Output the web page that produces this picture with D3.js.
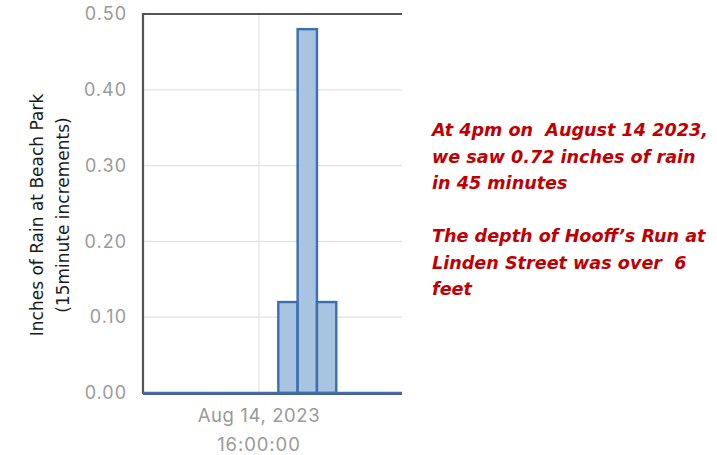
<!DOCTYPE html>
<html>
<head>
<meta charset="utf-8">
<script src="https://cdn.jsdelivr.net/npm/d3@7"></script>
<style>
body { margin: 0; background: #fff; }
svg { display: block; }
</style>
</head>
<body>
<script>
// 15 minute rain totals (bin start time, inches)
var times = ["14:30", "14:45", "15:00", "15:15", "15:30", "15:45", "16:00", "16:15", "16:30", "16:45", "17:00", "17:15", "17:30", "17:45"]
var rain = [0, 0, 0, 0, 0, 0, 0, 0.12, 0.48, 0.12, 0, 0, 0, 0]
var yTicks = [0, 0.1, 0.2, 0.3, 0.4, 0.5]
var xTicks = ["16:00"]
var note1 = ["At 4pm on  August 14 2023,", "we saw 0.72 inches of rain", "in 45 minutes"]
var note2 = ["The depth of Hooff\u2019s Run at", "Linden Street was over  6", "feet"]

var W = 717, H = 455
var m = { left: 143, top: 14, right: 402, bottom: 393 }

var parse = function (t) { return d3.timeParse("%Y-%m-%d %H:%M")("2023-08-14 " + t) }
var data = times.map(function (t, i) { return { t: parse(t), v: rain[i] } })

var svg = d3.select("body").append("svg")
    .attr("width", W)
    .attr("height", H)

var x = d3.scaleTime()
    .domain([parse("14:30"), d3.timeMinute.offset(parse("17:45"), 6)])
    .range([m.left, m.right])
var y = d3.scaleLinear().domain([0, 0.5]).range([m.bottom, m.top])

// grid
svg.append("g").selectAll("line").data(yTicks).enter().append("line")
    .attr("x1", m.left).attr("x2", m.right)
    .attr("y1", function (d) { return y(d) }).attr("y2", function (d) { return y(d) })
    .attr("stroke", "#e2e2e2").attr("stroke-width", 1.2)
svg.append("g").selectAll("line").data(xTicks).enter().append("line")
    .attr("x1", function (d) { return x(parse(d)) }).attr("x2", function (d) { return x(parse(d)) })
    .attr("y1", m.top).attr("y2", m.bottom)
    .attr("stroke", "#e2e2e2").attr("stroke-width", 1.2)

// frame
svg.append("line").attr("x1", m.left).attr("x2", m.right).attr("y1", m.top).attr("y2", m.top)
    .attr("stroke", "#555").attr("stroke-width", 2.2)
svg.append("line").attr("x1", m.left).attr("x2", m.left).attr("y1", m.top - 1).attr("y2", m.bottom + 1)
    .attr("stroke", "#555").attr("stroke-width", 2.2)
svg.append("line").attr("x1", m.left).attr("x2", m.right).attr("y1", m.bottom + 1).attr("y2", m.bottom + 1)
    .attr("stroke", "#555").attr("stroke-width", 2)

// bars
var bars = data.filter(function (d) { return d.v > 0 })
svg.append("g").selectAll("rect").data(bars).enter().append("rect")
    .attr("x", function (d) { return x(d.t) })
    .attr("width", function (d) { return x(d3.timeMinute.offset(d.t, 15)) - x(d.t) })
    .attr("y", function (d) { return y(d.v) })
    .attr("height", function (d) { return y(0) - y(d.v) })
    .attr("fill", "#a9c4e0")
    .attr("stroke", "#3b6fb0")
    .attr("stroke-width", 2.4)

// zero line across the whole range
svg.append("line")
    .attr("x1", m.left).attr("x2", m.right)
    .attr("y1", y(0)).attr("y2", y(0))
    .attr("stroke", "#3b6fb0").attr("stroke-width", 2.6)

// y axis labels
var yAxis = d3.axisLeft(y).tickValues(yTicks).tickFormat(d3.format(".2f")).tickSize(0).tickPadding(16)
var ga = svg.append("g").attr("transform", "translate(" + m.left + ",0)").call(yAxis)
ga.select(".domain").remove()
ga.selectAll("text").attr("font-family", "Inter, 'Open Sans', sans-serif").attr("font-size", 18)
    .attr("letter-spacing", 1).attr("fill", "#9a9a9a")

// x axis labels
xTicks.forEach(function (t) {
    var xx = x(parse(t))
    svg.append("text").attr("x", xx).attr("y", 422).attr("text-anchor", "middle")
        .attr("font-family", "Inter, 'Open Sans', sans-serif").attr("font-size", 18.5)
        .attr("letter-spacing", 0.6).attr("fill", "#9a9a9a")
        .text(d3.timeFormat("%b %d, %Y")(parse(t)))
    svg.append("text").attr("x", xx).attr("y", 451).attr("text-anchor", "middle")
        .attr("font-family", "Inter, 'Open Sans', sans-serif").attr("font-size", 18.5)
        .attr("letter-spacing", 0.9).attr("fill", "#9a9a9a")
        .text(d3.timeFormat("%H:%M:%S")(parse(t)))
})

// y title
var yt = svg.append("text")
    .attr("transform", "translate(0,215) rotate(-90)")
    .attr("text-anchor", "middle")
    .attr("font-family", "'DejaVu Sans', sans-serif")
    .attr("font-size", 17)
    .attr("fill", "#1a1a1a")
yt.append("tspan").attr("x", 0).attr("y", 43).text("Inches of Rain at Beach Park")
yt.append("tspan").attr("x", 0).attr("y", 69).text("(15minute increments)")

// annotation
var note = note1.concat([""], note2)
var tx = svg.append("text")
    .attr("font-family", "'DejaVu Sans', sans-serif")
    .attr("font-size", 17.6)
    .attr("font-weight", "bold")
    .attr("font-style", "italic")
    .attr("fill", "#c00000")
    .attr("xml:space", "preserve")
note.forEach(function (s, i) {
    tx.append("tspan").attr("x", 432).attr("y", 136 + i * 26.5).text(s)
})
</script>
</body>
</html>
